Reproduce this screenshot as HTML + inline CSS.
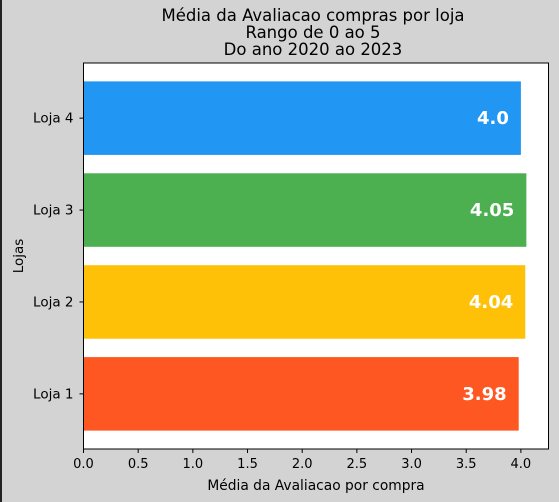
<!DOCTYPE html>
<html><head><meta charset="utf-8"><style>
body{margin:0;background:#d3d3d3;}
svg{display:block;font-family:"DejaVu Sans","Liberation Sans",sans-serif;}
</style></head><body>
<svg id="c" width="559" height="502">
<rect x="0" y="0" width="2" height="502" fill="#222"/>
<g id="title" font-size="16.5" text-anchor="middle" fill="#000">
<text x="313" y="21">Média da Avaliacao compras por loja</text>
<text x="313" y="38">Rango de 0 ao 5</text>
<text x="313" y="55">Do ano 2020 ao 2023</text>
</g>
<rect x="83.5" y="63" width="465" height="386" fill="#fff"/>
<g id="bars"></g>
<rect x="83.5" y="63" width="465" height="386" fill="none" stroke="#000" stroke-width="1"/>
<g id="xt"></g><g id="yt"></g>
<text x="316" y="490" font-size="13.8" text-anchor="middle">Média da Avaliacao por compra</text>
<text transform="translate(23,256) rotate(-90)" font-size="13.5" text-anchor="middle">Lojas</text>
</svg>
<script>
const categories=["Loja 1","Loja 2","Loja 3","Loja 4"];
const values=[3.98,4.04,4.05,4.0];
const valueLabels=["3.98","4.04","4.05","4.0"];
const colors=["#ff5722","#ffc107","#4caf50","#2196f3"];
const xTicks=[0,0.5,1,1.5,2,2.5,3,3.5,4];
const xTickLabels=["0.0","0.5","1.0","1.5","2.0","2.5","3.0","3.5","4.0"];
const NS="http://www.w3.org/2000/svg";
const L=83.5,R=548.5,T=63,B=449;
const xmax=Math.max(...values)*1.05;
const x=v=>L+v/xmax*(R-L);
const y=i=>T+(3.6-i)/4.2*(B-T);
const bh=0.8/4.2*(B-T);
function mk(tag,attrs,parent){const e=document.createElementNS(NS,tag);for(const k in attrs)e.setAttribute(k,attrs[k]);parent.appendChild(e);return e;}
const bars=document.getElementById('bars'),xt=document.getElementById('xt'),yt=document.getElementById('yt');
values.forEach((v,i)=>{
 const r=mk('rect',{x:x(0),y:y(i)-bh/2,width:x(v)-x(0),height:bh,fill:colors[i]},bars);
 
 
 const t=mk('text',{x:x(v)-12,y:y(i)+6,'text-anchor':'end','font-size':'18','font-weight':'bold',fill:'#fff'},bars);
 t.textContent=valueLabels[i];
 
 
 const tk=mk('line',{x1:L-4,x2:L,y1:y(i),y2:y(i),stroke:'#000'},yt);
 
 
 const tl=mk('text',{x:L-10,y:y(i)+4.5,'text-anchor':'end','font-size':'13.5'},yt);
 tl.textContent=categories[i];
 
 
});
xTicks.forEach((v,i)=>{
 const tk=mk('line',{x1:x(v),x2:x(v),y1:B,y2:B+4,stroke:'#000'},xt);
 
 
 const tl=mk('text',{x:x(v),y:B+19,'text-anchor':'middle','font-size':'13'},xt);
 tl.textContent=xTickLabels[i];
 
 
});
</script>
</body></html>
